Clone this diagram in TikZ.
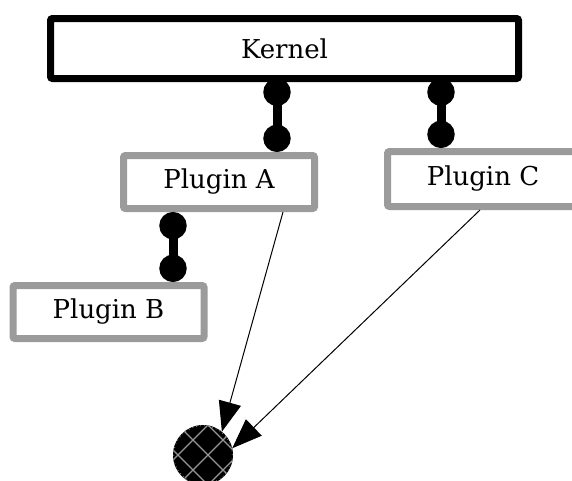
\documentclass[tikz,border=0pt]{standalone}
\usepackage{fontspec}
\setmainfont{DejaVu Serif}
\usetikzlibrary{arrows.meta,calc}
\definecolor{boxgray}{RGB}{155,155,155}
\definecolor{hatchgray}{RGB}{150,150,150}
\begin{document}
\begin{tikzpicture}[x=0.75pt,y=-0.75pt,
  every node/.style={font=\fontsize{19.5}{23}\selectfont},
  kernelbox/.style={draw=black,line width=5.25pt,fill=white,minimum width=351pt,minimum height=45pt,inner sep=0pt,outer sep=0pt,rounded corners=1.5pt},
  pluginbox/.style={draw=boxgray,line width=5.25pt,fill=white,minimum width=143.25pt,minimum height=39.75pt,inner sep=0pt,rounded corners=1.5pt},
  dotlink/.style={line width=6.75pt,{Circle[length=20.5pt,width=20.5pt]}-{Circle[length=20.5pt,width=20.5pt]}},
  depend/.style={line width=0.75pt,-{Triangle[length=22.5pt,width=17pt]}},
  sinknode/.style={circle,fill=black,minimum size=45pt,inner sep=0pt,outer sep=0pt},
  hatchline/.style={draw=hatchgray,line width=0.9pt},
  rimline/.style={draw=hatchgray,line width=0.6pt,dash pattern=on 0.6pt off 2.4pt}
]
\useasboundingbox (0,0) rectangle (572,480);
\node[kernelbox] (kernel) at (284.5,48.5) {Kernel};
\node[pluginbox] (pA) at (219,182) {Plugin A};
\node[pluginbox] (pB) at (108.5,312) {Plugin B};
\node[pluginbox,minimum height=41.25pt] (pC) at (483,179) {Plugin C};
\node[sinknode] (sink) at (203,455) {};
\begin{scope}
  \clip (sink.center) circle (22.5pt);
  \foreach \k in {-3,...,3} {
    \draw[hatchline] ($(sink.center)+(\k*30+5,0)+(-45,-45)$) -- ++(90,90);
    \draw[hatchline] ($(sink.center)+(\k*30+5,0)+(-45,45)$) -- ++(90,-90);
  }
  \draw[rimline] (sink.center) circle (22pt);
\end{scope}
\draw[dotlink] ([xshift=43.5pt]pA.north |- kernel.south) -- ([xshift=43.5pt]pA.north);
\draw[dotlink] ([xshift=-31.5pt]pC.north |- kernel.south) -- ([xshift=-31.5pt]pC.north);
\draw[dotlink] ([xshift=-34.5pt]pA.south) -- ([xshift=-34.5pt]pA.south |- pB.north);
\draw[depend] ([xshift=-26.25pt]pA.south east) -- (sink.51);
\draw[depend] ([xshift=-2.25pt]pC.south) -- (sink.13);
\end{tikzpicture}
\end{document}
